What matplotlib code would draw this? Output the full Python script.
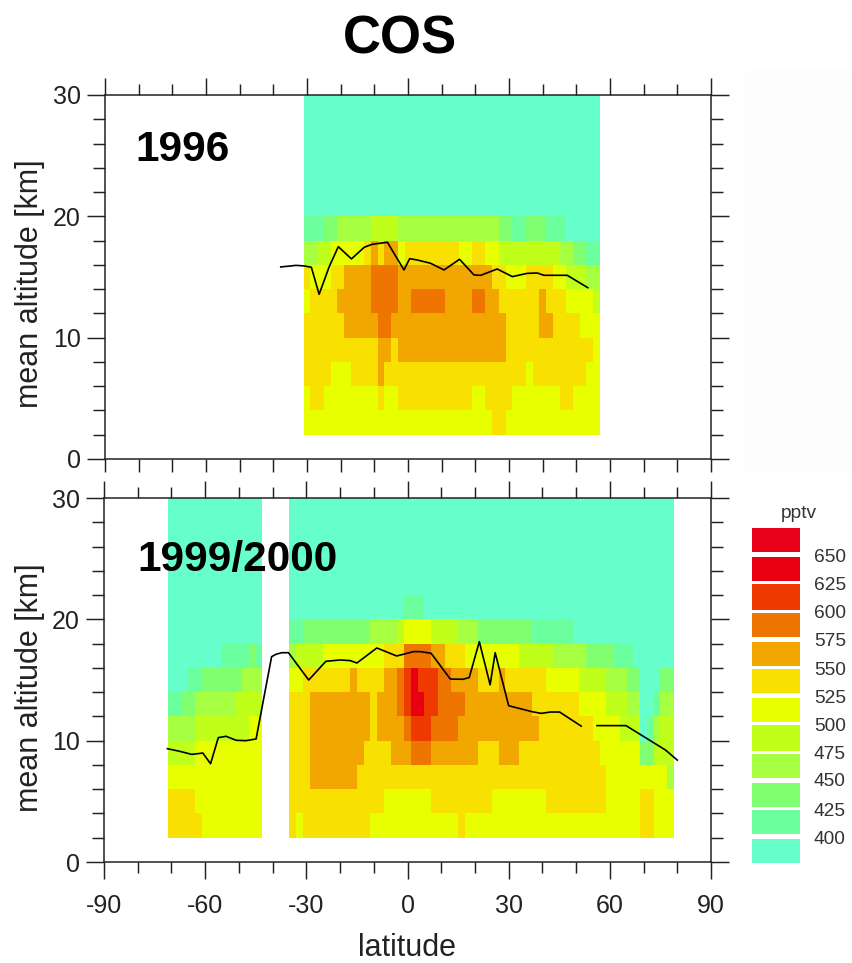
import numpy as np
import matplotlib
matplotlib.use("Agg")
import matplotlib.pyplot as plt
from matplotlib.colors import ListedColormap, BoundaryNorm
from matplotlib.patches import Rectangle
from matplotlib.ticker import MultipleLocator

plt.rcParams['font.family'] = ['Liberation Sans', 'DejaVu Sans']
plt.rcParams['axes.unicode_minus'] = False

W, H = 852, 963

# colour classes (pptv)
class_edges = [300, 400, 425, 450, 475, 500, 525, 550, 575, 600, 625, 650, 700]
class_labels = [400, 425, 450, 475, 500, 525, 550, 575, 600, 625, 650]
class_colors = ['#66FFCC', '#6CFF9E', '#80FF70', '#A6FF40', '#C0FF1A', '#E8FF00',
                '#F8E000', '#F2A600', '#EE7500', '#EE3A00', '#E80012', '#E60018']

# 1996 field, run-length rows (n cells of 2 deg, pptv), altitude = bottom of the 2 km row
y96_alt02 = [(28, 512), (2, 537), (14, 512)]
y96_alt04 = [(1, 512), (2, 537), (8, 512), (1, 537), (2, 512), (11, 537), (2, 512), (4, 537),
             (7, 512), (2, 537), (4, 512)]
y96_alt06 = [(4, 537), (3, 512), (4, 537), (1, 562), (21, 537), (1, 512), (8, 537), (2, 512)]
y96_alt08 = [(11, 537), (2, 562), (1, 537), (16, 562), (13, 537), (1, 512)]
y96_alt10 = [(6, 537), (5, 562), (2, 587), (17, 562), (5, 537), (2, 562), (4, 537), (3, 512)]
y96_alt12 = [(1, 512), (4, 537), (5, 562), (4, 587), (2, 562), (5, 587), (4, 562), (2, 587),
             (2, 562), (6, 537), (1, 562), (3, 537), (4, 512), (1, 487)]
y96_alt14 = [(1, 537), (3, 512), (2, 537), (4, 562), (4, 587), (14, 562), (2, 537), (3, 512),
             (4, 537), (2, 512), (3, 487), (2, 462)]
y96_alt16 = [(2, 462), (2, 487), (5, 512), (1, 537), (1, 562), (1, 537), (2, 562), (1, 512),
             (8, 537), (2, 512), (2, 537), (2, 512), (9, 487), (2, 462), (2, 437), (2, 412)]
y96_alt18 = [(3, 412), (2, 437), (5, 462), (4, 487), (15, 462), (2, 437), (2, 412), (3, 437),
             (3, 412), (5, 390)]
y96_alt20_30 = [(44, 390)]
y96_lat0, y96_nlat = -31, 44

# 1999/2000 field: west block (-71..-43) and main block (-35..79)
y00w_alt02 = [(5, 537), (9, 512)]
y00w_alt04 = [(4, 537), (10, 512)]
y00w_alt06 = [(14, 512)]
y00w_alt08 = [(4, 487), (10, 512)]
y00w_alt10 = [(4, 462), (8, 487), (2, 512)]
y00w_alt12 = [(2, 412), (2, 437), (6, 462), (4, 487)]
y00w_alt14 = [(3, 390), (2, 412), (6, 437), (3, 462)]
y00w_alt16 = [(8, 390), (4, 412), (1, 437), (1, 412)]
y00w_alt18_30 = [(14, 390)]

y00m_alt02 = [(1, 537), (1, 512), (10, 537), (13, 512), (1, 537), (26, 512), (2, 537), (3, 512)]
y00m_alt04 = [(14, 537), (7, 512), (9, 537), (8, 512), (9, 537), (5, 512), (2, 537), (3, 512)]
y00m_alt06 = [(3, 537), (7, 562), (37, 537), (9, 512), (1, 462)]
y00m_alt08 = [(3, 537), (8, 562), (4, 537), (3, 562), (3, 587), (7, 562), (3, 537), (3, 562),
              (12, 537), (6, 512), (2, 437), (3, 487)]
y00m_alt10 = [(3, 537), (9, 562), (1, 537), (4, 562), (1, 587), (3, 612), (4, 587), (12, 562),
              (8, 537), (4, 512), (3, 487), (1, 390), (1, 412), (1, 462), (2, 487)]
y00m_alt12 = [(3, 537), (9, 562), (1, 537), (3, 562), (1, 587), (1, 612), (2, 637), (2, 612),
              (4, 587), (10, 562), (7, 537), (4, 512), (3, 487), (2, 462), (2, 390), (1, 412),
              (2, 462)]
y00m_alt14 = [(2, 512), (7, 537), (1, 562), (4, 537), (2, 562), (1, 587), (1, 612), (1, 637),
              (3, 612), (2, 587), (4, 562), (3, 537), (1, 562), (6, 537), (5, 512), (4, 487),
              (3, 462), (2, 437), (3, 390), (2, 437)]
y00m_alt16 = [(1, 462), (4, 487), (9, 512), (3, 537), (4, 587), (2, 562), (3, 537), (8, 512),
              (5, 487), (5, 462), (4, 437), (3, 412), (6, 390)]
y00m_alt18 = [(2, 412), (10, 437), (4, 462), (1, 487), (4, 512), (4, 487), (3, 462), (8, 437),
              (6, 412), (15, 390)]
y00m_alt20 = [(17, 390), (3, 412), (37, 390)]
y00m_alt22_30 = [(57, 390)]

# tropopause lines
trop96_lat = [-37.8, -34.8, -33.3, -30.8, -28.7, -26.4, -23.4, -20.7, -16.8, -13.0, -10.6, -6.1,
              -1.2, 0.5, 2.8, 6.7, 10.7, 15.3, 19.6, 21.6, 26.5, 31.0, 35.4, 38.4, 40.4, 47.3, 53.4]
trop96_alt = [15.83, 15.91, 15.96, 15.91, 15.80, 13.57, 15.85, 17.50, 16.49, 17.45, 17.70, 17.86,
              15.58, 16.51, 16.40, 16.13, 15.58, 16.46, 15.17, 15.14, 15.66, 15.03, 15.30, 15.33,
              15.14, 15.14, 14.12]
trop00a_lat = [-71.2, -67.5, -64.0, -60.7, -58.4, -56.1, -53.8, -50.8, -47.9, -44.9, -40.3, -39.0,
               -37.3, -35.3, -29.3, -24.2, -20.0, -17.0, -15.0, -9.1, -3.2, 1.8, 3.8, 7.0, 12.7,
               16.4, 18.3, 21.3, 24.5, 26.0, 30.0, 36.9, 39.6, 42.4, 45.1, 51.5]
trop00a_alt = [9.34, 9.12, 8.87, 8.98, 8.10, 10.25, 10.36, 10.03, 10.0, 10.14, 16.92, 17.12,
               17.25, 17.25, 15.0, 16.54, 16.65, 16.6, 16.4, 17.64, 16.98, 17.34, 17.34, 17.2, 15.08,
               15.06, 15.2, 18.16, 14.6, 17.25, 12.88, 12.39, 12.25, 12.36, 12.36, 11.2]
trop00b_lat = [56.2, 64.8, 76.5, 80.0]
trop00b_alt = [11.24, 11.24, 9.23, 8.4]


def expand(runs):
    return np.concatenate([np.full(n, float(v)) for n, v in runs])


def px_axes(l, t, r, b):
    return fig.add_axes([l / W, 1 - b / H, (r - l) / W, (b - t) / H])


fig = plt.figure(figsize=(W / 100, H / 100), dpi=100, facecolor='white')

# faint panel behind the legend column
fig.patches.append(Rectangle((745 / W, 1 - 472 / H), 107 / W, 402 / H, transform=fig.transFigure,
                             facecolor='#FDFDFD', edgecolor='none', zorder=0))

cmap = ListedColormap(class_colors)
norm = BoundaryNorm(class_edges, cmap.N)

ax1 = px_axes(105, 95, 711, 459)
ax2 = px_axes(104, 498, 711, 862)

# 1996 mesh
rows96 = [y96_alt02, y96_alt04, y96_alt06, y96_alt08, y96_alt10, y96_alt12, y96_alt14, y96_alt16, y96_alt18]
Z96 = np.array([expand(r) for r in rows96] + [expand(y96_alt20_30)])
lat96 = y96_lat0 + 2.0 * np.arange(y96_nlat + 1)
alt96 = np.array([2, 4, 6, 8, 10, 12, 14, 16, 18, 20, 30])
ax1.pcolormesh(lat96, alt96, Z96, cmap=cmap, norm=norm, shading='flat', antialiased=False, zorder=1)
ax1.plot(trop96_lat, trop96_alt, color='black', lw=1.2, zorder=3)

# 1999/2000 mesh
west = [y00w_alt02, y00w_alt04, y00w_alt06, y00w_alt08, y00w_alt10, y00w_alt12, y00w_alt14, y00w_alt16,
        y00w_alt18_30, y00w_alt18_30, y00w_alt18_30]
main = [y00m_alt02, y00m_alt04, y00m_alt06, y00m_alt08, y00m_alt10, y00m_alt12, y00m_alt14, y00m_alt16,
        y00m_alt18, y00m_alt20, y00m_alt22_30]
gap = np.full(4, np.nan)
Z00 = np.ma.masked_invalid(np.array([np.concatenate([expand(w), gap, expand(m)]) for w, m in zip(west, main)]))
lat00 = -71 + 2.0 * np.arange(76)
alt00 = np.array([2, 4, 6, 8, 10, 12, 14, 16, 18, 20, 22, 30])
ax2.pcolormesh(lat00, alt00, Z00, cmap=cmap, norm=norm, shading='flat', antialiased=False, zorder=1)
ax2.plot(trop00a_lat, trop00a_alt, color='black', lw=1.2, zorder=3)
ax2.plot(trop00b_lat, trop00b_alt, color='black', lw=1.2, zorder=3)

AX_C = '#222222'
for ax in (ax1, ax2):
    ax.set_xlim(-90, 90)
    ax.set_ylim(0, 30)
    ax.xaxis.set_major_locator(MultipleLocator(30))
    ax.xaxis.set_minor_locator(MultipleLocator(10))
    ax.yaxis.set_major_locator(MultipleLocator(10))
    ax.yaxis.set_minor_locator(MultipleLocator(2))
    ax.tick_params(axis='both', which='both', direction='out', top=True, bottom=True, left=True, right=True,
                   width=1.05, color=AX_C)
    ax.tick_params(axis='y', which='major', length=13, labelsize=18, pad=4.5, labelcolor='#222222')
    ax.tick_params(axis='y', which='minor', length=8.6)
    ax.tick_params(axis='x', which='major', length=12.2, labelsize=18, pad=10.5, labelcolor='#222222')
    ax.tick_params(axis='x', which='minor', length=8)
    for s in ax.spines.values():
        s.set_color(AX_C)
        s.set_linewidth(1.1)
        s.set_zorder(4)

ax1.tick_params(axis='x', which='both', labelbottom=False)
for t in ax1.xaxis.get_major_ticks() + ax1.xaxis.get_minor_ticks():
    t.tick1line.set_markersize(9)


def fig_text(x, y, s, **kw):
    fig.text(x / W, 1 - y / H, s, **kw)


fig_text(400, 40, 'COS', fontsize=38, fontweight='bold', ha='center', va='center', color='black')
fig_text(135, 150, '1996', fontsize=30.5, fontweight='bold', ha='left', va='center', color='black')
fig_text(137, 560, '1999/2000', fontsize=30.5, fontweight='bold', ha='left', va='center', color='black')
fig_text(30, 284, 'mean altitude [km]', fontsize=22, rotation=90, ha='center', va='center', color='#222222')
fig_text(30, 688, 'mean altitude [km]', fontsize=22, rotation=90, ha='center', va='center', color='#222222')
fig_text(407, 948, 'latitude', fontsize=22, ha='center', va='center', color='#222222')

# legend boxes, drawn in pixel coordinates of a full-figure overlay
leg = fig.add_axes([0, 0, 1, 1], facecolor='none')
leg.set_xlim(0, W)
leg.set_ylim(H, 0)
leg.axis('off')
box_tops = [838.7, 809.7, 782.7, 753.7, 725.0, 697.7, 669.0, 641.7, 612.7, 584.3, 556.7, 528.3]
box_bots = [863.3, 834.0, 807.3, 778.3, 751.0, 722.0, 693.3, 666.0, 637.3, 610.0, 581.0, 552.3]
label_ys = [839.7, 811, 782, 754.7, 726.3, 698.7, 670.3, 641.3, 613.7, 585.3, 558]
for c, t, b in zip(class_colors, box_tops, box_bots):
    leg.add_patch(Rectangle((752, t), 48, b - t, facecolor=c, edgecolor='none'))
for v, y in zip(class_labels, label_ys):
    leg.text(814, y, str(v), fontsize=13.8, ha='left', va='center', color='#333333')
leg.text(799, 513, 'pptv', fontsize=13.8, ha='center', va='center', color='#333333')

fig.savefig('out.png', dpi=100, facecolor='white')
